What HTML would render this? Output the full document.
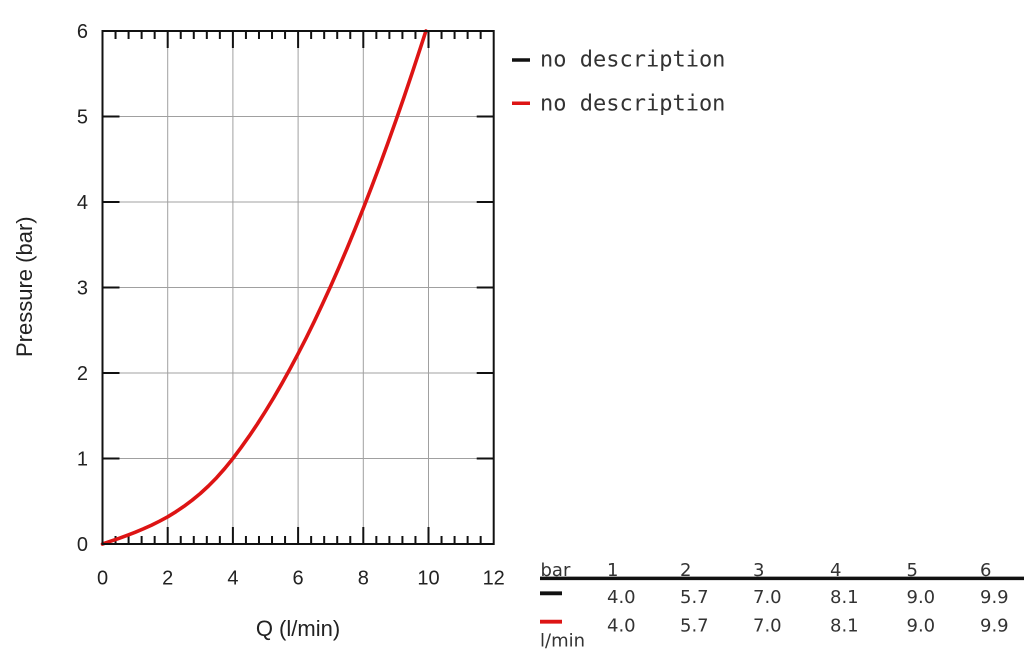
<!DOCTYPE html>
<html>
<head>
<meta charset="utf-8">
<style>
  html, body { margin:0; padding:0; background:#fff; }
  body { width:1024px; height:651px; overflow:hidden; }
  svg { display:block; }
  .tl { font-family:"Liberation Sans", Arial, sans-serif; font-size:20px; fill:#222; }
  .ax { font-family:"Liberation Sans", Arial, sans-serif; font-size:22px; fill:#222; }
  .lg { font-family:"DejaVu Sans Mono", "Liberation Mono", monospace; font-size:22px; fill:#333; }
  .tb { font-family:"DejaVu Sans", "Liberation Sans", sans-serif; font-size:18px; fill:#333; }
</style>
</head>
<body>
<svg width="1024" height="651" viewBox="0 0 1024 651" xmlns="http://www.w3.org/2000/svg">
  <rect width="1024" height="651" fill="#fff"/>

  <!-- grid -->
  <g stroke="#a0a0a0" stroke-width="1">
    <line x1="167.7" y1="31" x2="167.7" y2="544"/>
    <line x1="232.9" y1="31" x2="232.9" y2="544"/>
    <line x1="298.1" y1="31" x2="298.1" y2="544"/>
    <line x1="363.3" y1="31" x2="363.3" y2="544"/>
    <line x1="428.5" y1="31" x2="428.5" y2="544"/>
    <line x1="102.5" y1="458.5" x2="493.7" y2="458.5"/>
    <line x1="102.5" y1="373" x2="493.7" y2="373"/>
    <line x1="102.5" y1="287.5" x2="493.7" y2="287.5"/>
    <line x1="102.5" y1="202" x2="493.7" y2="202"/>
    <line x1="102.5" y1="116.5" x2="493.7" y2="116.5"/>
  </g>

  <!-- ticks -->
  <g stroke="#111" stroke-width="2" fill="none">
    <path d="
      M115.54 544v-8 M128.58 544v-8 M141.62 544v-8 M154.66 544v-8
      M180.74 544v-8 M193.78 544v-8 M206.82 544v-8 M219.86 544v-8
      M245.94 544v-8 M258.98 544v-8 M272.02 544v-8 M285.06 544v-8
      M311.14 544v-8 M324.18 544v-8 M337.22 544v-8 M350.26 544v-8
      M376.34 544v-8 M389.38 544v-8 M402.42 544v-8 M415.46 544v-8
      M441.54 544v-8 M454.58 544v-8 M467.62 544v-8 M480.66 544v-8
      M115.54 31v8 M128.58 31v8 M141.62 31v8 M154.66 31v8
      M180.74 31v8 M193.78 31v8 M206.82 31v8 M219.86 31v8
      M245.94 31v8 M258.98 31v8 M272.02 31v8 M285.06 31v8
      M311.14 31v8 M324.18 31v8 M337.22 31v8 M350.26 31v8
      M376.34 31v8 M389.38 31v8 M402.42 31v8 M415.46 31v8
      M441.54 31v8 M454.58 31v8 M467.62 31v8 M480.66 31v8"/>
    <path d="
      M167.7 544v-17 M232.9 544v-17 M298.1 544v-17 M363.3 544v-17 M428.5 544v-17
      M167.7 31v17 M232.9 31v17 M298.1 31v17 M363.3 31v17 M428.5 31v17"/>
    <path d="
      M102.5 458.5h17 M102.5 373h17 M102.5 287.5h17 M102.5 202h17 M102.5 116.5h17
      M493.7 458.5h-17 M493.7 373h-17 M493.7 287.5h-17 M493.7 202h-17 M493.7 116.5h-17"/>
  </g>

  <!-- curve -->
  <polyline fill="none" stroke="#dd1414" stroke-width="3.6" stroke-linejoin="round" stroke-linecap="round"
    points="102.5,544 110.65,541.2 118.8,538.4 126.95,535.4 135.1,532.3 143.25,528.9 151.4,525.25 159.55,521.2 167.7,516.8 175.85,511.8 184,506.3 192.15,500.2 200.3,493.5 208.45,486.0 216.6,477.7 224.75,468.5 232.9,458.5 241.05,447.6 249.2,436.1 257.35,424.0 265.5,411.2 273.65,397.8 281.8,383.7 289.95,369.0 298.1,353.7 306.25,337.8 314.4,321.2 322.55,303.9 330.7,286.1 338.85,267.6 347,248.5 355.15,228.7 363.3,208.3 371.45,187.3 379.6,165.7 387.75,143.4 395.9,120.5 404.05,97.0 412.2,72.8 420.35,48.1 425.9,31"/>

  <!-- border -->
  <rect x="102.5" y="31" width="391.2" height="513" fill="none" stroke="#111" stroke-width="2"/>

  <!-- y tick labels -->
  <g class="tl" text-anchor="end">
    <text x="88" y="551">0</text>
    <text x="88" y="465.5">1</text>
    <text x="88" y="380">2</text>
    <text x="88" y="294.5">3</text>
    <text x="88" y="209">4</text>
    <text x="88" y="123.5">5</text>
    <text x="88" y="38">6</text>
  </g>
  <!-- x tick labels -->
  <g class="tl" text-anchor="middle">
    <text x="102.5" y="584.5">0</text>
    <text x="167.7" y="584.5">2</text>
    <text x="232.9" y="584.5">4</text>
    <text x="298.1" y="584.5">6</text>
    <text x="363.3" y="584.5">8</text>
    <text x="428.5" y="584.5">10</text>
    <text x="493.7" y="584.5">12</text>
  </g>

  <!-- axis titles -->
  <text class="ax" x="298" y="636" text-anchor="middle">Q (l/min)</text>
  <text class="ax" transform="translate(32,286.7) rotate(-90)" text-anchor="middle">Pressure (bar)</text>

  <!-- legend -->
  <line x1="512" y1="60" x2="530" y2="60" stroke="#111" stroke-width="3.5"/>
  <text class="lg" x="540" y="66.7">no description</text>
  <line x1="512" y1="103.3" x2="530" y2="103.3" stroke="#dd1414" stroke-width="3.5"/>
  <text class="lg" x="540" y="110.7">no description</text>

  <!-- table -->
  <g class="tb">
    <text x="540.5" y="576">bar</text>
    <text x="607" y="576">1</text>
    <text x="680" y="576">2</text>
    <text x="753" y="576">3</text>
    <text x="830" y="576">4</text>
    <text x="906.5" y="576">5</text>
    <text x="980" y="576">6</text>

    <text x="607" y="603">4.0</text>
    <text x="680" y="603">5.7</text>
    <text x="753" y="603">7.0</text>
    <text x="830" y="603">8.1</text>
    <text x="906.5" y="603">9.0</text>
    <text x="980" y="603">9.9</text>

    <text x="607" y="631.5">4.0</text>
    <text x="680" y="631.5">5.7</text>
    <text x="753" y="631.5">7.0</text>
    <text x="830" y="631.5">8.1</text>
    <text x="906.5" y="631.5">9.0</text>
    <text x="980" y="631.5">9.9</text>

    <text x="540" y="646.5">l/min</text>
  </g>
  <line x1="540" y1="578.4" x2="1024" y2="578.4" stroke="#111" stroke-width="3.5"/>
  <line x1="540" y1="593.3" x2="562" y2="593.3" stroke="#111" stroke-width="3.8"/>
  <line x1="540" y1="621.7" x2="562" y2="621.7" stroke="#dd1414" stroke-width="3.8"/>
</svg>
</body>
</html>
